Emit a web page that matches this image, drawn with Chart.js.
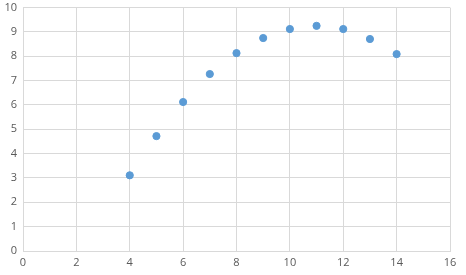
<!DOCTYPE html>
<html>
<head>
<meta charset="utf-8">
<style>
  html, body { margin: 0; padding: 0; background: #fff; overflow: hidden; }
  #wrap { width: 466px; height: 280px; position: relative; margin-top: -5px; }
</style>
</head>
<body>
<div id="wrap"><canvas id="myChart"></canvas></div>
<script src="https://cdn.jsdelivr.net/npm/chart.js@4.4.0/dist/chart.umd.min.js"></script>
<script>
  const xValues = [4, 5, 6, 7, 8, 9, 10, 11, 12, 13, 14];
  const yValues = [3.11, 4.72, 6.12, 7.27, 8.13, 8.75, 9.12, 9.25, 9.12, 8.71, 8.09];
  const xTicks = { min: 0, max: 16, step: 2 };
  const yTicks = { min: 0, max: 10, step: 1 };

  const points = xValues.map((x, i) => ({ x: x, y: yValues[i] }));
  const gridColor = '#d9d9d9';
  const textColor = '#595959';

  var ctx = document.getElementById('myChart').getContext('2d');
  var myChart = new Chart(ctx, {
    type: 'scatter',
    data: {
      datasets: [{
        data: points,
        backgroundColor: '#5b9bd5',
        borderColor: '#5b9bd5',
        pointRadius: 3.6,
        pointHoverRadius: 3.6
      }]
    },
    options: {
      responsive: true,
      maintainAspectRatio: false,
      animation: false,
      layout: { padding: { top: 0, right: 16, bottom: 0, left: 0 } },
      plugins: { legend: { display: false }, tooltip: { enabled: false } },
      scales: {
        x: {
          type: 'linear',
          min: xTicks.min, max: xTicks.max,
          ticks: { stepSize: xTicks.step, color: textColor, font: { family: 'Open Sans', size: 11 }, padding: 5, maxRotation: 0 },
          grid: { color: gridColor, drawTicks: false },
          border: { color: gridColor },
          afterFit: (s) => { s.height = 24; }
        },
        y: {
          min: yTicks.min, max: yTicks.max,
          ticks: { stepSize: yTicks.step, color: textColor, font: { family: 'Open Sans', size: 11 }, padding: 6 },
          grid: { color: gridColor, drawTicks: false },
          border: { color: gridColor },
          afterFit: (s) => { s.width = 23; }
        }
      }
    }
  });
</script>
</body>
</html>
